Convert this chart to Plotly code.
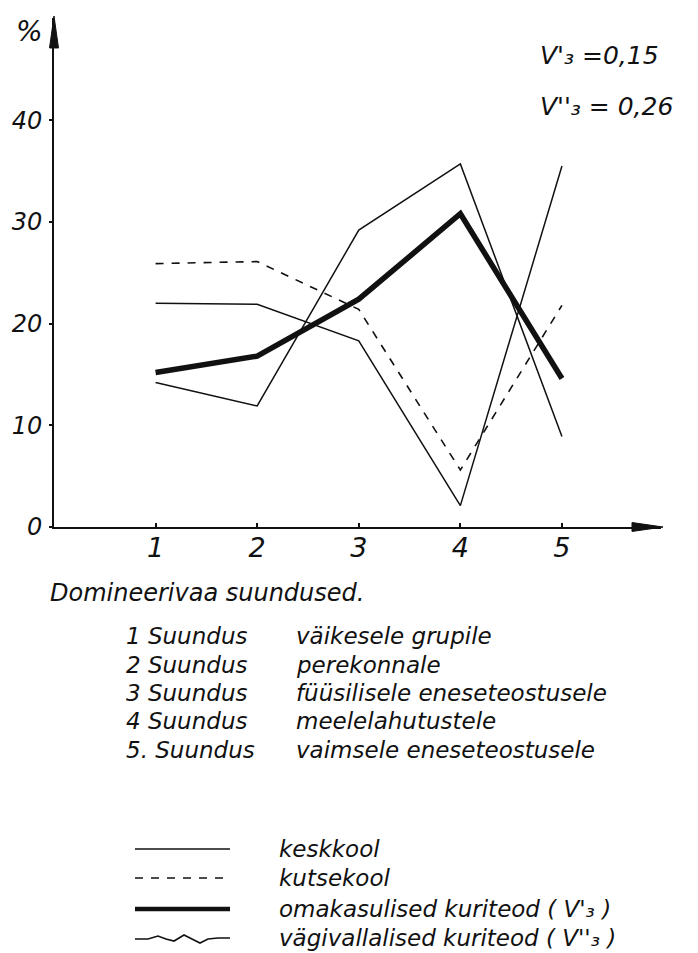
import plotly.graph_objects as go

# ---- data ----
categories = [1, 2, 3, 4, 5]
keskkool = [22.0, 21.9, 18.3, 2.1, 35.5]
kutsekool = [25.9, 26.1, 21.4, 5.6, 21.8]
omakasulised = [15.2, 16.8, 22.4, 30.8, 14.6]
vagivallalised = [14.2, 11.9, 29.2, 35.7, 8.9]

series_names = ["keskkool", "kutsekool",
                "omakasulised kuriteod ( V'₃ )",
                "vägivallalised kuriteod ( V''₃ )"]
x_tick_labels = ["1", "2", "3", "4", "5"]
y_tick_vals = [0, 10, 20, 30, 40]
y_tick_labels = ["0", "10", "20", "30", "40"]

list_title = "Domineerivaa suundused."
list_numbers = ["1 Suundus", "2 Suundus", "3 Suundus", "4 Suundus", "5. Suundus"]
list_items = [
    "väikesele grupile",
    "perekonnale",
    "füüsilisele eneseteostusele",
    "meelelahutustele",
    "vaimsele eneseteostusele",
]
coef_texts = ["V'₃ =0,15", "V''₃ = 0,26"]

# ---- layout geometry (pixels) ----
W, H = 698, 953
L, R, T, B = 46, 45, 10, 434
PW = W - L - R
PH = H - T - B

def px(x):
    return (x - L) / PW

def py(y):
    return (H - B - y) / PH

FAM = "DejaVu Sans, sans-serif"
INK = "#111111"

fig = go.Figure()
styles = [
    dict(color=INK, width=1.5),
    dict(color=INK, width=1.6, dash="8px,8px"),
    dict(color=INK, width=5.5),
    dict(color=INK, width=1.5),
]
for name, vals, st in zip(series_names, [keskkool, kutsekool, omakasulised, vagivallalised], styles):
    fig.add_trace(go.Scatter(x=categories, y=vals, mode="lines", name=name,
                             line=st, showlegend=False))

fig.update_layout(
    width=W, height=H,
    margin=dict(l=L, r=R, t=T, b=B, autoexpand=False),
    paper_bgcolor="white", plot_bgcolor="white",
    font=dict(family=FAM, color=INK, style="italic"),
    showlegend=False,
)
fig.update_xaxes(range=[0, 5.975], showgrid=False, zeroline=False, automargin=False,
                 showline=True, linecolor=INK, linewidth=2,
                 tickmode="array", tickvals=categories, ticktext=x_tick_labels,
                 ticks="inside", ticklen=4, tickwidth=2, tickcolor=INK,
                 ticklabelstandoff=-4,
                 tickfont=dict(size=27, family=FAM, style="italic", color=INK))
fig.update_yaxes(range=[0, 50.05], showgrid=False, zeroline=False, automargin=False,
                 showline=True, linecolor=INK, linewidth=2,
                 tickmode="array", tickvals=y_tick_vals, ticktext=y_tick_labels,
                 ticks="outside", ticklen=3, tickwidth=2, tickcolor=INK,
                 ticklabelstandoff=2,
                 tickfont=dict(size=24, family=FAM, style="italic", color=INK))

def txt(x, y, t, size, anchor="left"):
    return dict(xref="paper", yref="paper", x=px(x), y=py(y), text=t,
                showarrow=False, xanchor=anchor, yanchor="middle",
                font=dict(size=size, family=FAM, style="italic", color=INK))

ann = []
ann.append(txt(21, 23, "%", 28, "center"))
for t, yy in zip(coef_texts, [47, 99]):
    ann.append(txt(530, yy, t, 25))
ann.append(txt(40, 585, list_title, 24))
rows_y = [628, 657, 685, 713, 742]
for n, t, yy in zip(list_numbers, list_items, rows_y):
    ann.append(txt(116, yy, n, 23))
    ann.append(txt(286, yy, t, 23))
leg_y = [841, 870, 901, 930]
for t, yy in zip(series_names, leg_y):
    ann.append(txt(269, yy, t, 23))
fig.update_layout(annotations=ann)

# axis arrowheads and legend samples
shapes = []
def pth(points):
    return "M " + " L ".join(f"{px(a):.4f},{py(b):.4f}" for a, b in points) + " Z"
shapes.append(dict(type="path", xref="paper", yref="paper",
                   path=pth([(46, 8), (41.5, 40), (50.5, 40)]),
                   fillcolor=INK, line=dict(color=INK, width=1)))
shapes.append(dict(type="path", xref="paper", yref="paper",
                   path=pth([(655, 519), (624, 514.5), (624, 523.5)]),
                   fillcolor=INK, line=dict(color=INK, width=1)))
for st, yy in zip(styles[:3], leg_y[:3]):
    shapes.append(dict(type="line", xref="paper", yref="paper",
                       x0=px(127), x1=px(222), y0=py(yy), y1=py(yy),
                       line=dict(color=INK, width=st["width"] if st["width"] < 5 else 4.5,
                                 dash=st.get("dash", "solid"))))
wx = [127, 140, 150, 158, 166, 176, 184, 192, 200, 210, 222]
wy = [931, 931, 928, 931, 933, 927, 931, 935, 931, 930, 930]
path = "M " + " L ".join(f"{px(a):.4f},{py(b):.4f}" for a, b in zip(wx, wy))
shapes.append(dict(type="path", xref="paper", yref="paper", path=path,
                   line=dict(color=INK, width=1.6)))
fig.update_layout(shapes=shapes)

fig.write_html("out.html")
